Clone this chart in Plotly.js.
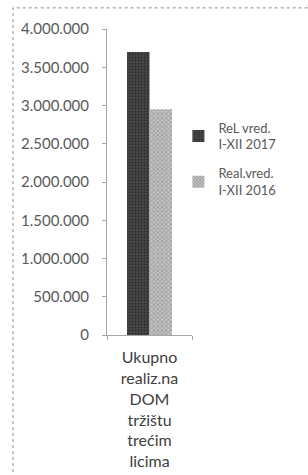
<!DOCTYPE html>
<html>
<head>
<meta charset="utf-8">
<script src="https://cdn.plot.ly/plotly-3.0.1.min.js"></script>
<style>
html,body{margin:0;padding:0;background:#fff;}
#chart{width:308px;height:475px;}
</style>
</head>
<body>
<div id="chart"></div>
<script>
const categories = ["Ukupno<br>realiz.na<br>DOM<br>tržištu<br>trećim<br>licima"];
const seriesNames = ["ReL vred.<br>I-XII 2017", "Real.vred.<br>I-XII 2016"];
const values2017 = [3700000];
const values2016 = [2950000];
const yTicks = [0, 500000, 1000000, 1500000, 2000000, 2500000, 3000000, 3500000, 4000000];

const FONT = "Lato, 'Open Sans', sans-serif";

const traces = [
  {
    type: "bar",
    name: seriesNames[0],
    x: categories,
    y: values2017,
    legendgroup: "a",
    marker: {
      color: "#404040",
      pattern: {shape: ".", fgcolor: "#2a2a2a", bgcolor: "#474747", size: 3, solidity: 0.3},
      line: {width: 0}
    },
    hoverinfo: "skip"
  },
  {
    type: "bar",
    name: seriesNames[1],
    x: categories,
    y: values2016,
    legendgroup: "b",
    marker: {
      color: "#ababab",
      pattern: {shape: "x", fgcolor: "#8e8e8e", bgcolor: "#c4c4c4", size: 3, solidity: 0.4},
      line: {width: 0}
    },
    hoverinfo: "skip"
  }
];

const layout = {
  width: 308,
  height: 475,
  margin: {l: 107, r: 116, t: 29, b: 140, pad: 0},
  paper_bgcolor: "#ffffff",
  plot_bgcolor: "#ffffff",
  separators: ",.",
  barmode: "group",
  bargap: 0.47,
  bargroupgap: 0,
  font: {family: FONT, color: "#595959"},
  showlegend: true,
  legend: {
    x: 0.84,
    xanchor: "left",
    y: 0.727,
    yanchor: "top",
    traceorder: "grouped",
    tracegroupgap: 9,
    font: {family: FONT, size: 13, color: "#595959"},
    bgcolor: "rgba(0,0,0,0)",
    borderwidth: 0
  },
  xaxis: {
    type: "category",
    showgrid: false,
    showline: true,
    linecolor: "#a6a6a6",
    linewidth: 1,
    ticks: "outside",
    tickson: "boundaries",
    ticklen: 4,
    tickcolor: "#a6a6a6",
    ticklabelstandoff: 8,
    tickfont: {family: FONT, size: 16, color: "#404040"},
    fixedrange: true
  },
  yaxis: {
    range: [0, 4000000],
    tickvals: yTicks,
    tickformat: ",d",
    showgrid: false,
    zeroline: false,
    showline: true,
    linecolor: "#a6a6a6",
    linewidth: 1,
    ticks: "outside",
    ticklen: 4,
    tickcolor: "#a6a6a6",
    ticklabelstandoff: 10,
    tickfont: {family: FONT, size: 15, color: "#595959"},
    fixedrange: true
  },
  shapes: [
    {
      type: "rect",
      xref: "paper", yref: "paper",
      x0: -1.106, x1: 2.6, y0: -0.6, y1: 1.069,
      line: {color: "#8c8c8c", width: 1, dash: "dot"},
      fillcolor: "rgba(0,0,0,0)",
      layer: "below"
    }
  ]
};

Plotly.newPlot("chart", traces, layout, {displayModeBar: false, staticPlot: true});
</script>
</body>
</html>
